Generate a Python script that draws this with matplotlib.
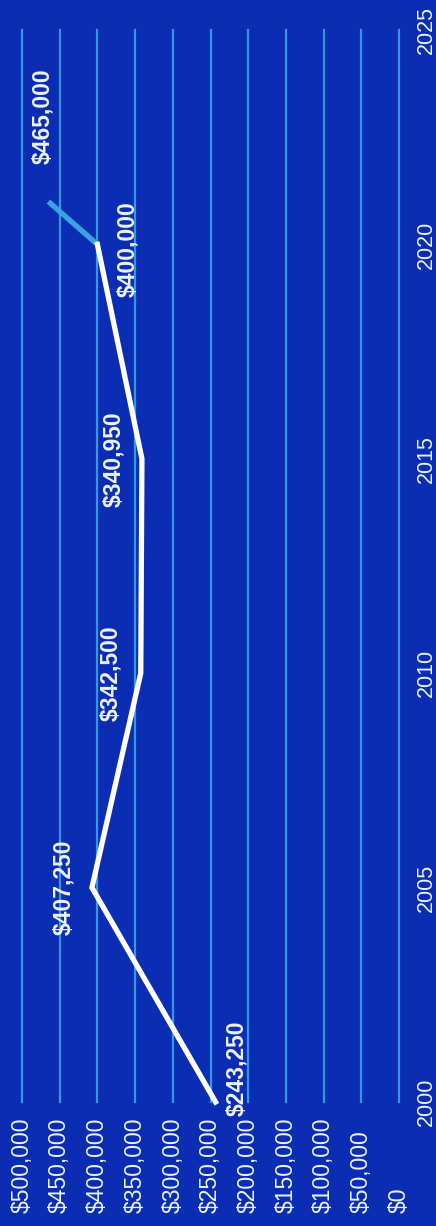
import matplotlib
matplotlib.use("Agg")
import matplotlib.pyplot as plt
import matplotlib.transforms as mtransforms

# Median home value, chart drawn rotated 90 degrees (years run bottom -> top)
YEARS = [2000, 2005, 2010, 2015, 2020]
VALUES = [243250, 407250, 342500, 340950, 400000]
PROJ_YEARS = [2020, 2021]
PROJ_VALUES = [400000, 465000]

LABELS = ["$243,250", "$407,250", "$342,500", "$340,950", "$400,000"]
PROJ_LABEL = "$465,000"

VALUE_TICKS = [0, 50000, 100000, 150000, 200000, 250000,
               300000, 350000, 400000, 450000, 500000]
YEAR_TICKS = [2000, 2005, 2010, 2015, 2020, 2025]

BG = "#0b2db4"
GRID = "#3499e4"
PROJ = "#3aa3e0"
TEXT = "#eef3ff"

plt.rcParams["font.family"] = ["Liberation Sans", "DejaVu Sans"]

W, H = 436, 1226
fig = plt.figure(figsize=(W / 100, H / 100), dpi=100, facecolor=BG)
# axes box in pixels: value 500k at x=22, 0 at x=399; year 2025 at y=30, 2000 at y=1102
x0, x1, ytop, ybot = 22, 399, 30, 1102
ax = fig.add_axes([x0 / W, (H - ybot) / H, (x1 - x0) / W, (ybot - ytop) / H])
ax.set_facecolor(BG)
ax.set_xlim(500000, 0)
ax.set_ylim(2000, 2025)
for s in ax.spines.values():
    s.set_visible(False)

ax.set_xticks(VALUE_TICKS)
ax.set_xticklabels([])
ax.tick_params(axis="x", length=0)
ax.grid(axis="x", color=GRID, lw=1.6)
ax.grid(axis="y", visible=False)
for gl in ax.get_xgridlines():
    gl.set_clip_on(False)

ax.yaxis.tick_right()
ax.set_yticks(YEAR_TICKS)
ax.set_yticklabels([str(y) for y in YEAR_TICKS], rotation=90, va="center",
                   color=TEXT, fontsize=15.5)
ax.tick_params(axis="y", length=0, pad=12)

# value labels below the plot, left-aligned in reading direction
trans = mtransforms.blended_transform_factory(ax.transData, fig.transFigure)
for v in VALUE_TICKS:
    ax.text(v, (H - 1213) / H, f"${v:,}", transform=trans, rotation=90,
            ha="center", va="bottom", color=TEXT, fontsize=16.5)

ax.plot(PROJ_VALUES, PROJ_YEARS, color=PROJ, lw=3.8,
        solid_capstyle="butt", clip_on=False, zorder=3)
ax.plot(VALUES, YEARS, color="white", lw=3.8, solid_joinstyle="miter",
        clip_on=False, zorder=4)

offsets = [(21, 34), (-28, 0), (-30, 0), (-28, 0), (30, -5)]
for v, y, lab, off in zip(VALUES, YEARS, LABELS, offsets):
    ax.annotate(lab, (v, y), xytext=off, textcoords="offset pixels",
                rotation=90, ha="center", va="center", color=TEXT,
                fontsize=16.5, fontweight="bold")
ax.annotate(PROJ_LABEL, (PROJ_VALUES[-1], PROJ_YEARS[-1]), xytext=(-6, 85),
            textcoords="offset pixels", rotation=90, ha="center",
            va="center", color=TEXT, fontsize=16.5, fontweight="bold")

fig.savefig("out.png", dpi=100, facecolor=BG)
